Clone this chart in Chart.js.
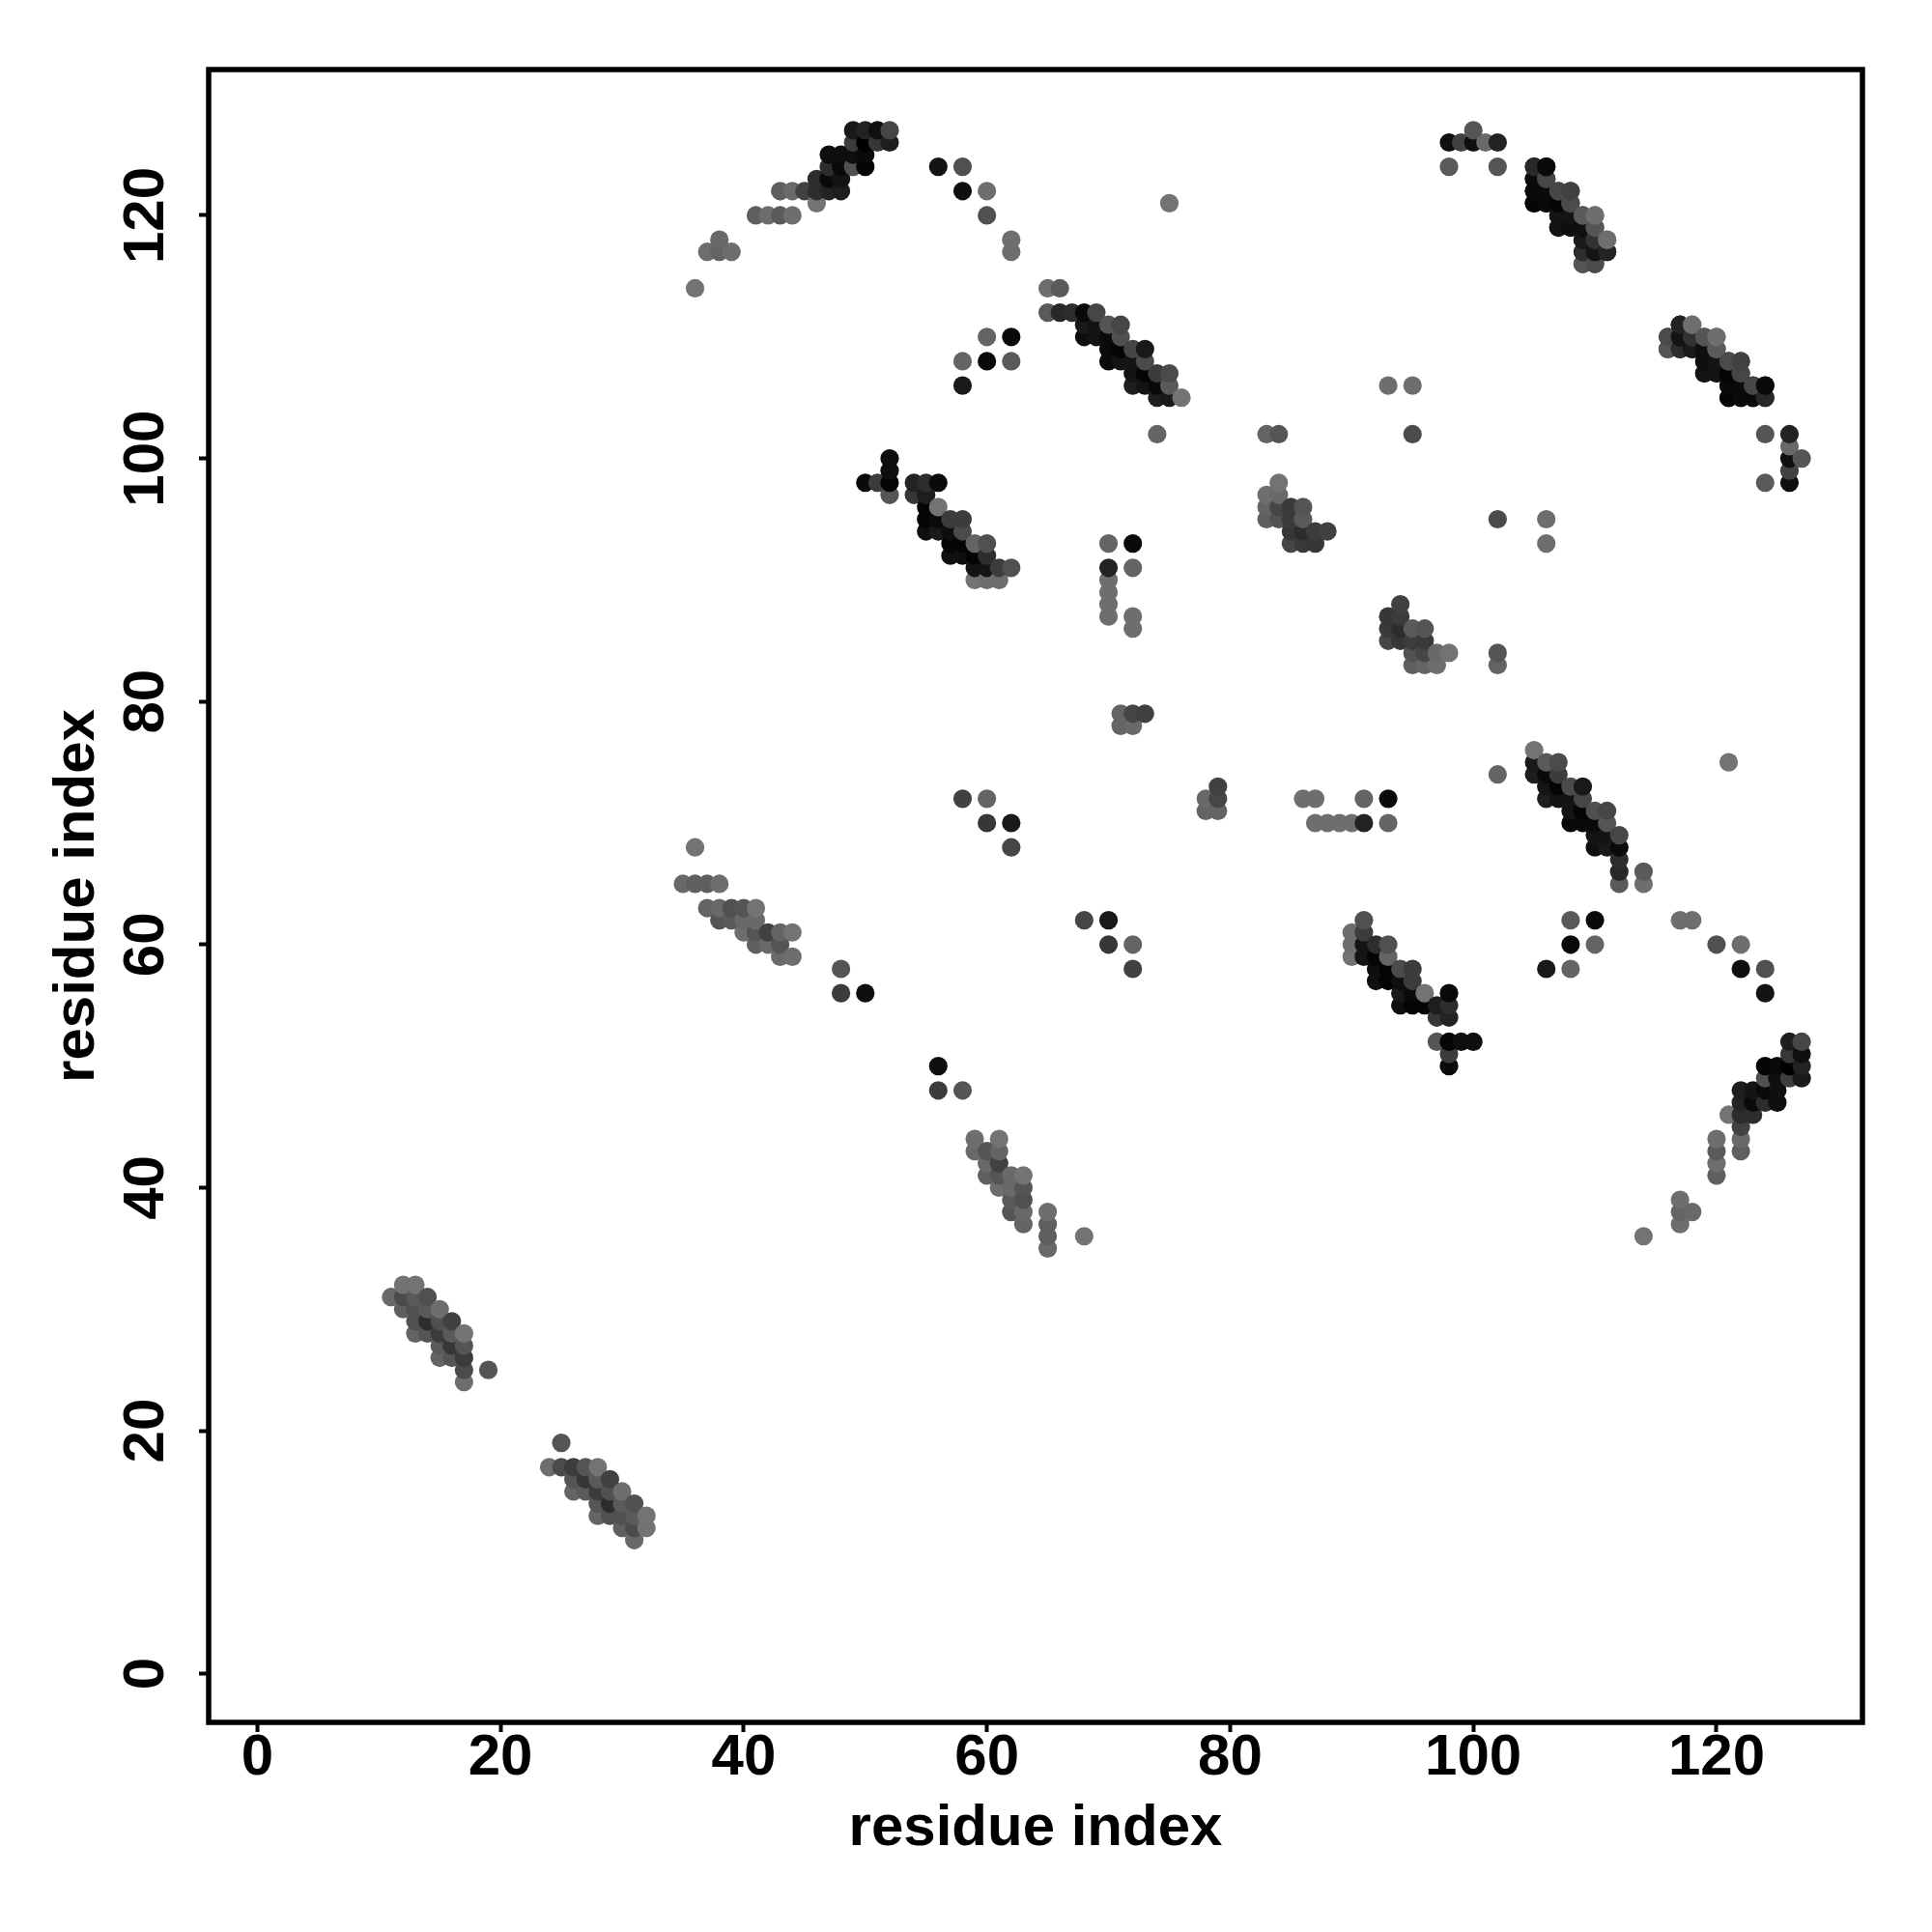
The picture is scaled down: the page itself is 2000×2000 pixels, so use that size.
<!DOCTYPE html>
<html>
<head>
<meta charset="utf-8">
<script src="https://cdn.jsdelivr.net/npm/chart.js@4"></script>
<style>
    html, body { margin: 0; padding: 0; background: #fff; }
    canvas { display: block; }
</style>
</head>
<body>
<canvas id="contactMap" width="2000" height="2000"></canvas>
<script>
// Contacts, upper triangle only (i < j). The map is symmetric, mirrored below.
const contactI = [
    11,12,13,12,13,14,12,13,14,15,13,14,15,16,13,14,15,16,17,15,16,17,15,16,17,17,19,17,
    36,37,38,39,38,41,42,43,44,43,44,45,46,47,48,46,46,47,48,47,48,49,50,47,48,49,50,49,50,51,52,49,50,51,52,56,58,58,60,60,62,62,75,
    65,66,65,66,67,68,69,68,69,70,71,68,69,70,71,70,71,72,73,70,71,72,73,72,73,74,75,72,73,74,75,74,75,76,58,60,62,60,62,58,
    100,98,99,100,101,102,98,102,105,106,105,106,105,106,105,106,107,108,107,108,107,108,107,108,109,110,109,110,109,110,111,109,110,111,109,110,
    116,116,117,117,117,118,118,118,119,119,119,119,120,120,120,120,121,121,121,121,122,122,122,122,123,123,124,124,
    50,51,52,52,52,52,54,54,55,55,56,55,56,55,56,55,56,57,58,57,58,57,58,57,58,59,60,59,60,59,60,59,60,61,62,61,
    83,84,84,83,84,85,86,83,84,85,86,85,86,87,88,85,86,87,
    36,35,36,37,38,37,38,39,40,41,38,39,40,41,40,41,42,43,44,41,42,43,43,44,
    48,48,50,58,60,60,62,62,74,70,72,70,72,70,70,70,70,72,72,71,72,73,71,72,83,84,93,95,95
];
const contactJ = [
    31,32,32,31,31,31,30,30,30,30,29,29,29,29,28,28,28,28,28,27,27,27,26,26,26,25,25,24,
    114,117,117,117,118,120,120,120,120,122,122,122,122,122,122,121,123,123,123,124,124,124,124,125,125,125,125,126,126,126,126,127,127,127,127,124,124,122,122,120,118,117,121,
    114,114,112,112,112,112,112,111,111,111,111,110,110,110,110,109,109,109,109,108,108,108,108,107,107,107,107,106,106,106,106,105,105,105,108,110,110,108,108,106,
    127,126,126,126,126,126,124,124,124,124,123,123,122,122,121,121,122,122,121,121,120,120,119,119,120,120,119,119,118,118,118,117,117,117,116,116,
    110,109,111,110,109,111,110,109,110,109,108,107,110,109,108,107,108,107,106,105,108,107,106,105,106,105,106,105,
    98,98,100,99,98,97,98,97,98,97,98,96,96,95,95,94,94,95,95,94,94,93,93,92,92,93,93,92,92,91,91,90,90,91,91,90,
    97,98,97,96,96,96,96,95,95,95,95,94,94,94,94,93,93,93,
    68,65,65,65,65,63,63,63,63,63,62,62,62,62,61,61,61,61,61,60,60,60,59,59,
    58,56,56,72,72,70,70,68,102,93,93,91,91,90,89,88,87,87,86,79,79,79,78,78,102,102,106,106,102
];
// grey level of each contact, 0 = black
const contactGrey = [
    105,115,115,75,90,80,95,80,90,110,80,45,80,65,100,85,60,90,115,90,55,85,100,85,60,75,85,110,
    115,110,100,110,105,95,110,90,110,95,105,65,45,35,30,115,45,10,20,45,10,80,5,15,15,15,10,60,0,55,30,25,35,15,70,20,80,15,110,80,110,110,115,
    110,90,90,40,45,10,70,25,20,85,70,15,20,10,80,10,5,70,25,10,20,20,75,20,5,60,75,30,20,10,90,30,25,115,100,100,10,10,90,25,
    85,15,65,15,105,35,90,85,45,12,5,65,10,15,5,10,75,70,5,80,20,20,15,15,105,115,10,85,15,60,115,45,20,35,80,85,
    75,85,35,20,45,110,50,25,85,15,15,20,110,90,20,20,75,5,10,5,65,70,10,10,70,10,10,40,
    10,60,15,15,5,85,35,55,45,30,10,5,115,5,10,15,25,60,60,15,75,5,5,15,15,100,80,5,45,20,20,115,110,60,80,110,
    110,115,105,100,70,58,85,95,82,60,90,55,45,60,65,70,58,55,
    115,105,95,95,110,100,105,80,85,115,85,90,105,105,110,85,65,100,115,95,105,85,105,110,
    85,60,15,65,100,55,25,70,100,100,10,35,100,110,110,110,110,110,110,100,70,65,100,105,100,85,110,110,75
];
const tickValues = [0, 20, 40, 60, 80, 100, 120];
const axisMin = -4;
const axisMax = 132;
const axisTitle = 'residue index';

// both halves of the map, drawn by x then y so later points sit on top
function buildPoints() {
    const pts = [];
    contactI.forEach((i, k) => {
        pts.push({ x: i, y: contactJ[k], grey: contactGrey[k] });
        pts.push({ x: contactJ[k], y: i, grey: contactGrey[k] });
    });
    pts.sort((a, b) => a.x - b.x || a.y - b.y);
    return pts;
}

const framePlugin = {
    id: 'frame',
    afterDraw(chart) {
        const { ctx, chartArea: a } = chart;
        ctx.save();
        ctx.strokeStyle = '#000';
        ctx.lineWidth = 5.5;
        ctx.strokeRect(a.left, a.top, a.right - a.left, a.bottom - a.top);
        ctx.restore();
    }
};

const labelFont = { family: '"Liberation Sans"', size: 60, weight: 'bold' };
const points = buildPoints();

function axisOptions(extraTicks, titlePadding, afterFit) {
    return {
        type: 'linear',
        min: axisMin,
        max: axisMax,
        afterBuildTicks: scale => { scale.ticks = tickValues.map(v => ({ value: v })); },
        afterFit: afterFit,
        grid: { drawOnChartArea: false, drawTicks: true, tickLength: 10, tickWidth: 4, color: '#000' },
        border: { display: false },
        ticks: Object.assign({ color: '#000', font: labelFont, autoSkip: false }, extraTicks),
        title: { display: true, text: axisTitle, color: '#000', font: labelFont, padding: titlePadding }
    };
}

new Chart(document.getElementById('contactMap').getContext('2d'), {
    type: 'scatter',
    data: {
        datasets: [{
            data: points,
            pointRadius: 9.6,
            pointBorderWidth: 0,
            pointBackgroundColor: points.map(p => `rgb(${p.grey},${p.grey},${p.grey})`)
        }]
    },
    options: {
        responsive: false,
        animation: false,
        layout: { padding: { top: 72, right: 72, bottom: 0, left: 0 } },
        plugins: { legend: { display: false }, tooltip: { enabled: false } },
        scales: {
            x: axisOptions({ maxRotation: 0, padding: -9 }, { top: 0, bottom: 71 }, s => { s.height = 217; }),
            y: axisOptions({ minRotation: 90, maxRotation: 90, crossAlign: 'center', padding: 3 }, { top: 44, bottom: 0 }, s => { s.width = 216; })
        }
    },
    plugins: [framePlugin]
});
</script>
</body>
</html>
